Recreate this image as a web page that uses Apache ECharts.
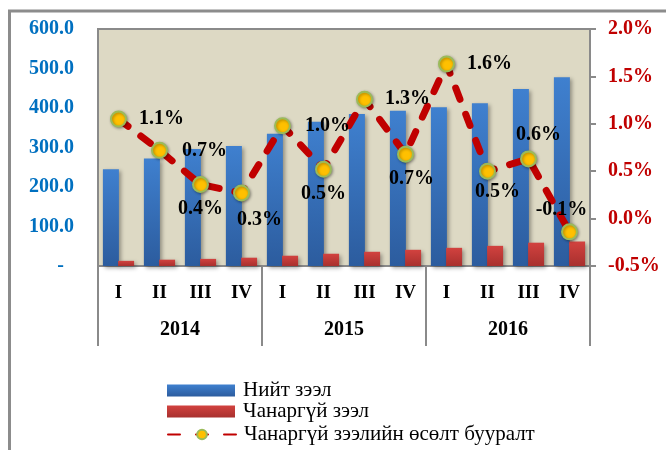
<!DOCTYPE html>
<html>
<head>
<meta charset="utf-8">
<script src="https://cdn.jsdelivr.net/npm/echarts@6/dist/echarts.min.js"></script>
<style>
  html, body { margin: 0; padding: 0; background: #fff; }
  #chart { width: 666px; height: 450px; }
</style>
</head>
<body>
<div id="chart"></div>
<script>
// өгөгдөл
var quarters = ['I', 'II', 'III', 'IV', 'I', 'II', 'III', 'IV', 'I', 'II', 'III', 'IV'];
var years = ['2014', '2015', '2016'];
var totalLoans = [245, 272, 296, 304, 335, 365, 385, 393, 402, 412, 448, 478];
var badLoans = [13, 16, 18, 21, 26, 31, 36, 41, 46, 51, 59, 62];
var badGrowth = [1.05, 0.72, 0.36, 0.27, 0.98, 0.52, 1.26, 0.68, 1.63, 0.50, 0.63, -0.14];
var leftTicks = [0, 600, 100];
var rightTicks = [-0.5, 2.0, 0.5];
var seriesNames = ['Нийт зээл', 'Чанаргүй зээл', 'Чанаргүй зээлийн өсөлт бууралт'];

var serif = 'Liberation Serif';
var chart = echarts.init(document.getElementById('chart'));

// шошгын байрлал
var labelPlace = [
    {position: 'right', distance: 12},
    {position: 'right', distance: 14},
    {position: 'bottom', distance: 6},
    {position: 'bottom', distance: 8, offset: [18, 0]},
    {position: 'right', distance: 14},
    {position: 'bottom', distance: 6},
    {position: 'right', distance: 12},
    {position: 'bottom', distance: 6, offset: [6, 0]},
    {position: 'right', distance: 12},
    {position: 'bottom', distance: 2, offset: [10, 0]},
    {position: 'top', distance: 6, offset: [10, 0]},
    {position: 'top', distance: 4, offset: [-8, 0]}
];

var growthData = badGrowth.map(function (v, i) {
    return {value: v, label: labelPlace[i]};
});

var blueGrad = new echarts.graphic.LinearGradient(0, 0, 0, 1, [
    {offset: 0, color: '#3F80CF'},
    {offset: 1, color: '#2C5C9E'}
]);
var redGrad = new echarts.graphic.LinearGradient(0, 0, 0, 1, [
    {offset: 0, color: '#D2423F'},
    {offset: 1, color: '#A8302E'}
]);

function legendRow(name, top, icon) {
    var item = {name: name};
    if (icon) item.icon = icon;
    return {
        left: 162,
        top: top,
        itemWidth: 68,
        itemHeight: 12,
        textStyle: {fontFamily: serif, fontSize: 21, color: '#000', padding: [0, 0, 0, 3]},
        data: [item]
    };
}

var option = {
    animation: false,
    backgroundColor: '#fff',
    graphic: [{
        type: 'rect',
        shape: {x: 9.5, y: 11, width: 700, height: 500},
        style: {fill: 'none', stroke: '#8c8c8c', lineWidth: 3},
        silent: true
    }],
    grid: {
        left: 98, right: 76, top: 29, bottom: 184,
        show: true,
        backgroundColor: '#DDD9C4',
        borderColor: '#8a8a8a',
        borderWidth: 2
    },
    legend: [
        legendRow(seriesNames[0], 375, 'rect'),
        legendRow(seriesNames[1], 396, 'rect'),
        legendRow(seriesNames[2], 419)
    ],
    xAxis: [{
        type: 'category',
        data: quarters,
        axisLine: {onZero: false, lineStyle: {color: '#8a8a8a', width: 2}},
        axisTick: {show: false},
        axisLabel: {
            fontFamily: serif, fontSize: 19, fontWeight: 'bold', color: '#000', margin: 18
        }
    }, {
        type: 'category',
        data: years,
        position: 'bottom',
        boundaryGap: true,
        axisLine: {show: false, onZero: false},
        axisTick: {show: true, length: 80, lineStyle: {color: '#8a8a8a', width: 2}},
        axisLabel: {
            fontFamily: serif, fontSize: 20, fontWeight: 'bold', color: '#000', margin: 54
        }
    }],
    yAxis: [{
        type: 'value',
        min: leftTicks[0], max: leftTicks[1], interval: leftTicks[2],
        axisLine: {show: false},
        axisTick: {show: false},
        splitLine: {show: false},
        axisLabel: {
            fontFamily: serif, fontSize: 20, fontWeight: 'bold', color: '#0070C0', margin: 24,
            formatter: function (v) { return v === 0 ? '-  ' : v.toFixed(1); }
        }
    }, {
        type: 'value',
        position: 'right',
        min: rightTicks[0], max: rightTicks[1], interval: rightTicks[2],
        axisLine: {show: true, lineStyle: {color: '#8a8a8a', width: 2}},
        axisTick: {show: true, length: 6, lineStyle: {color: '#8a8a8a', width: 2}},
        splitLine: {show: false},
        axisLabel: {
            fontFamily: serif, fontSize: 20, fontWeight: 'bold', color: '#C00000', margin: 18,
            formatter: function (v) { return v.toFixed(1) + '%'; }
        }
    }],
    series: [{
        name: seriesNames[0],
        type: 'bar',
        data: totalLoans,
        barWidth: 16,
        barGap: '-5%',
        itemStyle: {
            color: blueGrad,
            shadowColor: 'rgba(0,0,0,0.35)', shadowBlur: 4, shadowOffsetX: 2, shadowOffsetY: 2
        }
    }, {
        name: seriesNames[1],
        type: 'bar',
        data: badLoans,
        barWidth: 16,
        itemStyle: {
            color: redGrad,
            shadowColor: 'rgba(0,0,0,0.35)', shadowBlur: 4, shadowOffsetX: 2, shadowOffsetY: 2
        }
    }, {
        name: seriesNames[2],
        type: 'line',
        yAxisIndex: 1,
        data: growthData,
        z: 5,
        symbol: 'circle',
        symbolSize: 15,
        lineStyle: {color: '#C00000', width: 7, type: [12, 16], cap: 'round'},
        itemStyle: {
            color: '#FFC000', borderColor: '#9BBB59', borderWidth: 2,
            shadowColor: 'rgba(0,0,0,0.35)', shadowBlur: 3, shadowOffsetX: 1, shadowOffsetY: 1
        },
        label: {
            show: true,
            fontFamily: serif, fontSize: 20, fontWeight: 'bold', color: '#000',
            formatter: function (p) { return p.value.toFixed(1) + '%'; }
        }
    }]
};

chart.setOption(option);
</script>
</body>
</html>
